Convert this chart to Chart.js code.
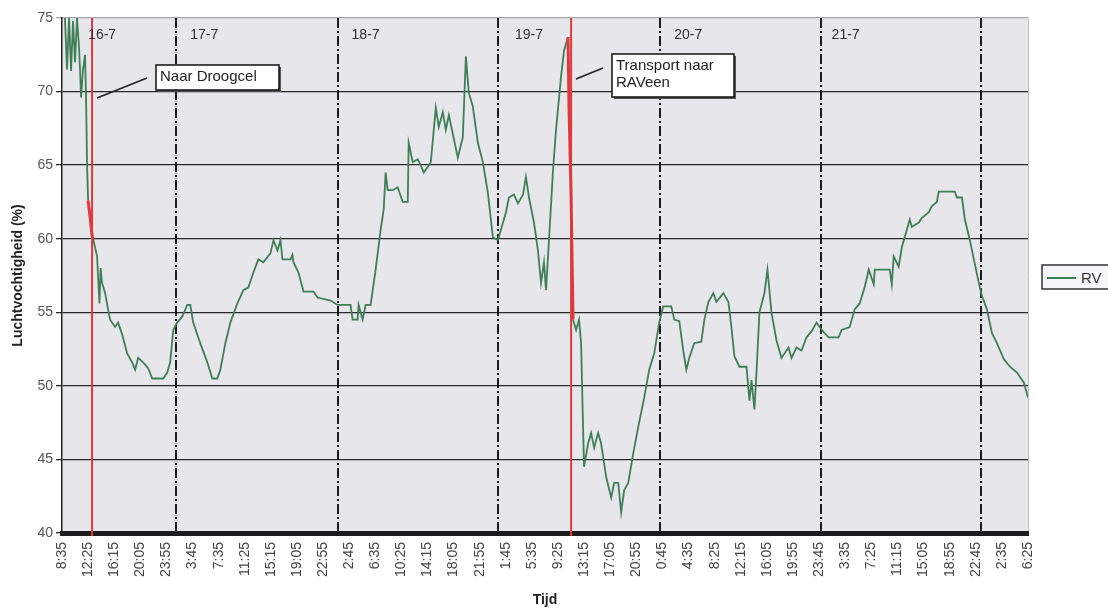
<!DOCTYPE html>
<html>
<head>
<meta charset="utf-8">
<script src="https://cdn.jsdelivr.net/npm/chart.js@4.4.1/dist/chart.umd.min.js"></script>
<style>
  html, body { margin: 0; padding: 0; background: #ffffff; }
  #wrap { width: 1108px; height: 609px; }
</style>
</head>
<body>
<div id="wrap"><canvas id="rv"></canvas></div>
<script>
// tijd in minuten vanaf 16-7 8:35
const tijd = [26,44,62,80,97,115,132,150,159,168,185,203,212,221,230,247,265,274,309,318,330,340,353,380,406,424,468,494,530,574,618,644,671,715,759,795,892,927,953,980,1015,1059,1104,1130,1156,1218,1280,1324,1368,1395,1439,1483,1545,1598,1642,1686,1730,1774,1836,1863,1898,1925,1942,2013,2030,2039,2083,2128,2216,2251,2366,2428,2542,2560,2604,2613,2648,2675,2719,2763,2807,2834,2851,2869,2913,2957,3002,3046,3054,3090,3134,3160,3187,3249,3293,3319,3355,3381,3408,3487,3531,3558,3584,3619,3664,3708,3752,3796,3840,3911,3937,3981,4017,4061,4087,4114,4158,4193,4220,4246,4264,4290,4326,4352,4396,4423,4458,4467,4485,4502,4529,4555,4573,4591,4599,4635,4661,4688,4723,4749,4794,4838,4864,4900,4926,4952,4988,5032,5076,5129,5173,5217,5261,5297,5367,5394,5438,5473,5500,5526,5570,5632,5659,5694,5738,5765,5826,5871,5897,5924,5968,6030,6056,6074,6100,6118,6144,6188,6215,6250,6294,6338,6400,6427,6471,6515,6559,6603,6647,6692,6753,6842,6868,6939,6983,7027,7071,7107,7151,7160,7292,7310,7327,7371,7398,7442,7468,7486,7548,7574,7636,7662,7707,7724,7866,7883,7928,7954,7998,8033,8077,8104,8148,8192,8236,8298,8351,8413,8475,8510];
const rv = [75,71.5,75,71.4,74.8,72,75,73,71.5,69.6,71.5,72.5,69.5,65,62.6,61.5,60.2,60,58.8,57.4,55.6,58,57,56.3,55.2,54.5,54,54.3,53.5,52.2,51.6,51.1,51.9,51.6,51.2,50.5,50.5,50.9,51.6,53.8,54.3,54.7,55.5,55.5,54.3,52.9,51.6,50.5,50.5,51.1,52.9,54.3,55.6,56.5,56.7,57.7,58.6,58.4,59,59.9,59.2,59.9,58.6,58.6,58.9,58.4,57.7,56.4,56.4,56,55.8,55.5,55.5,54.5,54.5,55.5,54.5,55.5,55.5,57.9,60.6,62,64.5,63.3,63.3,63.5,62.5,62.5,66.5,65.2,65.4,65,64.5,65.2,68.9,67.6,68.6,67.4,68.4,65.5,66.9,72.4,69.9,69,66.5,65.2,63.1,60.1,59.9,61.8,62.8,63,62.4,63,64.2,62.8,61.1,59.2,57,58.4,56.5,59.9,64.7,67.4,71,72.8,73.7,68.8,62.8,54.5,53.8,54.5,52.9,47,44.5,46.1,46.8,45.8,46.8,46.1,43.8,42.4,43.4,43.4,41.4,42.9,43.4,45.4,47.2,49.2,51.1,52.2,54.3,55.4,55.4,54.5,54.4,52.4,51.1,51.9,52.9,53,54.5,55.7,56.3,55.7,56.3,55.7,54,52,51.3,51.3,49,50.4,48.4,50.9,55,56.3,57.9,55,53.1,51.9,52.6,51.9,52.6,52.4,53.3,53.7,54.3,53.8,53.3,53.3,53.8,54,55.2,55.6,56.7,57.9,56.9,57.9,57.9,56.9,58.8,58.1,59.4,60.6,61.3,60.8,61.1,61.4,61.8,62.2,62.5,63.2,63.2,62.8,62.8,61.3,59.9,58.6,57,56.1,55.2,53.6,52.9,51.8,51.3,50.9,50.2,49.2];

const tickLabels = ["8:35","12:25","16:15","20:05","23:55","3:45","7:35","11:25","15:15","19:05","22:55","2:45","6:35","10:25","14:15","18:05","21:55","1:45","5:35","9:25","13:15","17:05","20:55","0:45","4:35","8:25","12:15","16:05","19:55","23:45","3:35","7:25","11:15","15:05","18:55","22:45","2:35","6:25"];

const dagGrens = [1006,2428,3840,5270,6683,8095];
const dagLabels = ["16-7","17-7","18-7","19-7","20-7","21-7"];
const dagLabelAt = [230,1130,2551,3990,5394,6780];
const roodLijnen = [265,4485];

const groen = "#3f7f58";
const rood = "#e0393a";

function inRood(x) {
    return (x >= 228 && x <= 276) || (x >= 4455 && x <= 4505);
}

const extras = {
    id: "extras",
    beforeDraw(chart) {
        const { ctx, chartArea: a } = chart;
        ctx.save();
        ctx.fillStyle = "#e6e6eb";
        ctx.fillRect(a.left, a.top, a.right - a.left, a.bottom - a.top);
        ctx.strokeStyle = "#bdbdc2";
        ctx.lineWidth = 1;
        ctx.beginPath();
        ctx.moveTo(a.right + 0.5, a.top);
        ctx.lineTo(a.right + 0.5, a.bottom);
        ctx.stroke();
        ctx.restore();
    },
    beforeDatasetsDraw(chart) {
        const { ctx, chartArea: a, scales: { x } } = chart;
        ctx.save();
        ctx.strokeStyle = "#1a1a1a";
        ctx.lineWidth = 2;
        ctx.setLineDash([10, 3, 2, 3]);
        dagGrens.forEach(t => {
            const px = Math.round(x.getPixelForValue(t));
            ctx.beginPath();
            ctx.moveTo(px, a.top);
            ctx.lineTo(px, a.bottom);
            ctx.stroke();
        });
        ctx.restore();
    },
    afterDatasetsDraw(chart) {
        const { ctx, chartArea: a, scales: { x } } = chart;
        ctx.save();
        ctx.strokeStyle = rood;
        ctx.lineWidth = 2;
        roodLijnen.forEach(t => {
            const px = x.getPixelForValue(t);
            ctx.beginPath();
            ctx.moveTo(px, a.top);
            ctx.lineTo(px, a.bottom + 3);
            ctx.stroke();
        });
        ctx.restore();
    },
    afterDraw(chart) {
        const { ctx, chartArea: a, scales: { x } } = chart;
        ctx.save();
        // dag labels
        ctx.fillStyle = "#333";
        ctx.font = "14px 'Liberation Sans', Arial, sans-serif";
        ctx.textBaseline = "middle";
        dagLabels.forEach((d, i) => {
            ctx.fillText(d, x.getPixelForValue(dagLabelAt[i]), a.top + 17);
        });

        // annotaties
        ctx.strokeStyle = "#222";
        ctx.lineWidth = 1.5;
        ctx.beginPath();
        ctx.moveTo(97, 98); ctx.lineTo(147, 78);
        ctx.moveTo(576, 79); ctx.lineTo(603, 68);
        ctx.stroke();

        function kader(x0, y0, w, h, regels) {
            ctx.fillStyle = "#555";
            ctx.fillRect(x0 + 2, y0 + 2, w, h);
            ctx.fillStyle = "#ffffff";
            ctx.fillRect(x0, y0, w, h);
            ctx.strokeStyle = "#111";
            ctx.lineWidth = 1.5;
            ctx.strokeRect(x0, y0, w, h);
            ctx.fillStyle = "#222";
            ctx.font = "15px 'Liberation Sans', Arial, sans-serif";
            ctx.textBaseline = "middle";
            regels.forEach((r, i) => ctx.fillText(r, x0 + 4, y0 + 12 + i * 17));
        }
        kader(156, 65, 123, 25, ["Naar Droogcel"]);
        kader(612, 54, 122, 43, ["Transport naar", "RAVeen"]);

        // legenda
        ctx.fillStyle = "#f6f6f8";
        ctx.fillRect(1042, 265, 70, 24);
        ctx.strokeStyle = "#333";
        ctx.lineWidth = 1.5;
        ctx.strokeRect(1042, 265, 70, 24);
        ctx.strokeStyle = groen;
        ctx.lineWidth = 2;
        ctx.beginPath();
        ctx.moveTo(1047, 278); ctx.lineTo(1076, 278);
        ctx.stroke();
        ctx.fillStyle = "#333";
        ctx.font = "15px 'Liberation Sans', Arial, sans-serif";
        ctx.fillText("RV", 1081, 279);
        ctx.restore();
    }
};

new Chart(document.getElementById("rv"), {
    type: "line",
    data: {
        datasets: [
            {
                label: "RV",
                data: tijd.map((t, i) => ({ x: t, y: rv[i] })),
                borderColor: groen,
                borderWidth: 1.8,
                pointRadius: 0,
                tension: 0,
                segment: {
                    borderColor: c => (inRood(c.p0.parsed.x) && inRood(c.p1.parsed.x)) ? rood : groen,
                    borderWidth: c => (inRood(c.p0.parsed.x) && inRood(c.p1.parsed.x)) ? 3 : 1.8
                }
            }
        ]
    },
    options: {
        responsive: true,
        maintainAspectRatio: false,
        animation: false,
        layout: { padding: { top: 18, right: 80, left: 0, bottom: 0 } },
        scales: {
            x: {
                type: "linear",
                min: 0,
                max: 8510,
                afterFit: s => { s.height = 76; },
                grid: { display: false, drawTicks: false },
                border: { display: true, color: "#1c1c1c", width: 5 },
                ticks: {
                    stepSize: 230,
                    autoSkip: false,
                    maxRotation: 90,
                    minRotation: 90,
                    padding: 9,
                    color: "#444",
                    font: { family: "'Liberation Sans', Arial, sans-serif", size: 14 },
                    callback: v => tickLabels[Math.round(v / 230)]
                },
                title: {
                    display: true,
                    text: "Tijd",
                    color: "#222",
                    padding: { top: 0, bottom: 0 },
                    font: { family: "'Liberation Sans', Arial, sans-serif", size: 14, weight: "bold" }
                }
            },
            y: {
                min: 40,
                max: 75,
                afterFit: s => { s.width = 62; },
                grid: {
                    color: c => c.tick.value === 75 ? "#a8a8ad" : "#2a2a2a",
                    lineWidth: 1.3,
                    tickLength: 6
                },
                border: { display: true, color: "#222", width: 1.5 },
                ticks: {
                    stepSize: 5,
                    padding: 3,
                    color: "#555",
                    font: { family: "'Liberation Sans', Arial, sans-serif", size: 14 }
                },
                title: {
                    display: true,
                    text: "Luchtvochtigheid (%)",
                    color: "#222",
                    padding: { top: 10, bottom: 0 },
                    font: { family: "'Liberation Sans', Arial, sans-serif", size: 14, weight: "bold" }
                }
            }
        },
        plugins: {
            legend: { display: false },
            tooltip: { enabled: false }
        }
    },
    plugins: [extras]
});
</script>
</body>
</html>
